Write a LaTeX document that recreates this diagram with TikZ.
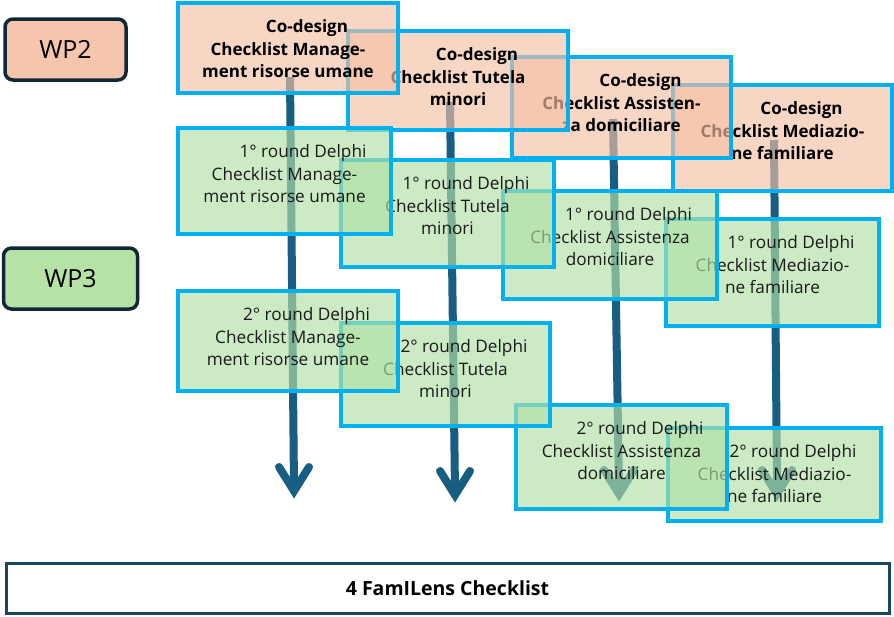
\documentclass[tikz,border=0pt]{standalone}
\usepackage{fontspec}
\setmainfont{Open Sans}
\usetikzlibrary{calc}
\definecolor{cyanb}{RGB}{0,176,240}
\definecolor{peach}{RGB}{244,192,164}
\definecolor{leaf}{RGB}{177,224,164}
\definecolor{arrowblue}{RGB}{24,94,130}
\definecolor{wpdark}{RGB}{16,40,54}
\definecolor{wppeach}{RGB}{245,198,172}
\definecolor{wpgreen}{RGB}{182,227,165}
\definecolor{botline}{RGB}{24,72,94}
\definecolor{txtdark}{RGB}{25,25,25}
\tikzset{
  box/.style={draw=cyanb, line width=3.2pt, fill opacity=0.65, draw opacity=1, text opacity=1, inner sep=0pt, outer sep=0pt},
  cobox/.style={box, fill=peach},
  rbox/.style={box, fill=leaf},
  coboxtext/.style={font=\fontsize{17}{22.5}\selectfont\bfseries, align=center, text=black, text opacity=1, fill opacity=1, inner sep=0pt},
  rboxtext/.style={font=\fontsize{17.2}{22.5}\selectfont, align=center, text=txtdark, text opacity=1, fill opacity=1, inner sep=0pt},
  arrowline/.style={draw=arrowblue, line width=8pt},
  chev/.style={draw=arrowblue, line width=8pt, line cap=round, line join=miter},
  wpbox/.style={draw=wpdark, line width=3.5pt, rounded corners=8pt, font=\fontsize{25}{28}\selectfont, text=black, inner sep=0pt},
  botbox/.style={draw=botline, line width=3pt, fill=white, inner sep=0pt, font=\fontsize{19.5}{22}\selectfont\bfseries},
}
\newcommand\mkbox[7]{%
  \node[#2, minimum width={(#5-#3)*1pt}, minimum height={(#6-#4)*1pt},
        label={[#2text, anchor=center, yshift=-46pt]north:{#7}}]
        (#1) at ({(#3+#5)/2},{(#4+#6)/2}) {};}
\begin{document}
\begin{tikzpicture}[x=1pt,y=-1pt]
\useasboundingbox (0,0) rectangle (894,616);
% arrows (behind boxes)
\coordinate (a1s) at (290,77);  \coordinate (a1e) at (294,491);
\coordinate (a2s) at (450,102); \coordinate (a2e) at (455,495);
\coordinate (a3s) at (613,119); \coordinate (a3e) at (619,494);
\coordinate (a4s) at (774,140); \coordinate (a4e) at (777,494);
\foreach \i in {1,2,3,4}{
  \draw[arrowline] (a\i s) -- ($(a\i e)+(0,-4)$);
  \draw[chev] ($(a\i e)+(-15,-24)$) -- (a\i e) -- ($(a\i e)+(15,-24)$);
}
% column 4
\mkbox{c4}{cobox}{673}{85}{892}{191}{\hspace*{38pt}Co-design\\Checklist Mediazio-\\ne familiare}
\mkbox{g4}{rbox}{666}{219}{879}{326}{\hspace*{37pt}1° round Delphi\\Checklist Mediazio-\\ne familiare}
\mkbox{h4}{rbox}{668}{428}{881}{521}{\hspace*{37pt}2° round Delphi\\Checklist Mediazio-\\ne familiare}
% column 3
\mkbox{c3}{cobox}{512}{57}{731}{158}{\hspace*{38pt}Co-design\\Checklist Assisten-\\za domiciliare}
\mkbox{g3}{rbox}{503}{191}{717}{299}{\hspace*{37pt}1° round Delphi\\Checklist Assistenza\\domiciliare}
\mkbox{h3}{rbox}{516}{405}{727}{509}{\hspace*{37pt}2° round Delphi\\Checklist Assistenza\\domiciliare}
% column 2
\mkbox{c2}{cobox}{348}{31}{568}{130}{\hspace*{38pt}Co-design\\Checklist Tutela\\minori}
\mkbox{g2}{rbox}{341}{160}{554}{267}{\hspace*{37pt}1° round Delphi\\Checklist Tutela\\minori}
\mkbox{h2}{rbox}{341}{323}{550}{426}{\hspace*{37pt}2° round Delphi\\Checklist Tutela\\minori}
% column 1
\mkbox{c1}{cobox}{178}{3}{398}{93}{\hspace*{38pt}Co-design\\Checklist Manage-\\ment risorse umane}
\mkbox{g1}{rbox}{178}{128}{391}{234}{\hspace*{37pt}1° round Delphi\\Checklist Manage-\\ment risorse umane}
\mkbox{h1}{rbox}{178}{291}{398}{391}{\hspace*{37pt}2° round Delphi\\Checklist Manage-\\ment risorse umane}
% WP labels
\node[wpbox, fill=wppeach, minimum width=121pt, minimum height=61pt] (wp2) at (65.5,49.5) {WP2};
\node[wpbox, fill=wpgreen, minimum width=134pt, minimum height=61pt] (wp3) at (70.5,278.5) {WP3};
% final box
\node[botbox, minimum width=883pt, minimum height=50pt] (fin) at (447.5,588) {4 FamILens Checklist};
\end{tikzpicture}
\end{document}
